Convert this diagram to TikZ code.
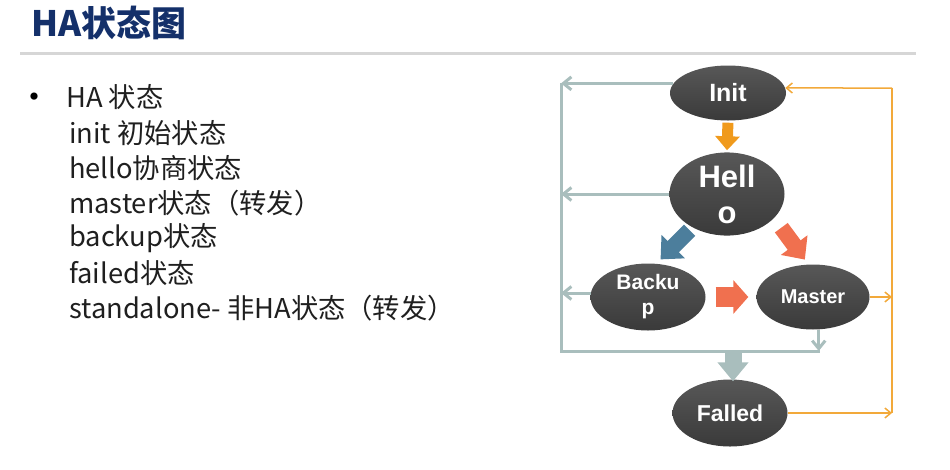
\documentclass[tikz,border=0pt]{standalone}
\usepackage{fontspec}
\setmainfont{Noto Sans CJK SC}
\newfontfamily\statefont{Liberation Sans}
\usetikzlibrary{arrows.meta,shapes.geometric}
\definecolor{titleblue}{HTML}{14306A}
\definecolor{rulegray}{HTML}{D6D6D6}
\definecolor{failgray}{HTML}{A9BEBD}
\definecolor{initorange}{HTML}{F2A93A}
\definecolor{helloorange}{HTML}{F09A1C}
\definecolor{backupblue}{HTML}{4C7E9C}
\definecolor{mastercoral}{HTML}{F0704F}
\definecolor{statedark}{HTML}{3A3A3A}

\begin{document}
\begin{tikzpicture}[x=1pt,y=-1pt,>={Straight Barb[length=8pt,width=13pt]},
  state/.style={ellipse,inner sep=0pt,minimum width=115pt,minimum height=67pt,
    top color=statedark!85,bottom color=statedark,text=white,align=center},
  item/.style={anchor=west,inner sep=0pt,text=black!88,font=\fontsize{27.3}{30}\selectfont},
  failline/.style={draw=failgray,line width=3pt},
  initline/.style={draw=initorange,line width=1.5pt,>={Straight Barb[length=6pt,width=10pt]}},
  block/.style n args={3}{line width=#1,-{Triangle[width=#2,length=#3]}}]
  \useasboundingbox (0,0) rectangle (950,469);

  % title
  \node[anchor=west,inner sep=0pt,text=titleblue,font=\fontsize{35}{40}\selectfont\bfseries]
    (title) at (31,23) {HA状态图};
  \draw[rulegray,line width=3pt] (20,53) -- (916,53);

  % list
  \node[inner sep=0pt,font=\fontsize{34}{34}\selectfont] (bullet) at (34,101) {•};
  \node[item] (l0) at (66,97) {HA 状态};
  \node[item] (l1) at (69,133) {init 初始状态};
  \node[item] (l2) at (69,168) {hello协商状态};
  \node[item] (l3) at (69,203) {master状态（转发）};
  \node[item] (l4) at (69,238) {backup状态};
  \node[item] (l5) at (69,273) {failed状态};
  \node[item] (l6) at (69,308) {standalone- 非HA状态（转发）};

  % states
  \node[state,minimum width=116pt,minimum height=55pt,
    font=\statefont\bfseries\fontsize{25}{28}\selectfont] (init) at (728,93) {Init};
  \node[state,minimum height=68pt,
    font=\statefont\bfseries\fontsize{31}{36}\selectfont] (hello) at (727,194) {Hell\\o};
  \node[state,font=\statefont\bfseries\fontsize{21}{25}\selectfont] (backup) at (648,297) {Backu\\p};
  \node[state,minimum width=113pt,minimum height=65pt,
    font=\statefont\bfseries\fontsize{20}{24}\selectfont] (master) at (813,297) {Master};
  \node[state,font=\statefont\bfseries\fontsize{23}{26}\selectfont] (failed) at (730,413) {Falled};

  % gray lines to failed
  \coordinate (busT) at (561,83);
  \coordinate (busL) at (561,351);
  \coordinate (busR) at (820,351);
  \coordinate (busF) at (733,351);
  \draw[failline] (busT) -- (busL) -- (busR);
  \draw[failline,->] (init.170) -- (init.170 -| busL);
  \draw[failline,->] (hello.west) -- (hello.west -| busL);
  \draw[failline,->] (backup.176) -- (backup.176 -| busL);
  \draw[failline,->] (master.280) -- (master.280 |- busR);
  \draw[failgray,block={17pt}{30pt}{19pt},shorten >=-2pt] (busF) -- (busF |- failed.north);

  % orange lines back to init
  \coordinate (ringT) at (892,88);
  \coordinate (ringB) at (892,413);
  \draw[initline] (ringT) -- (ringB);
  \draw[initline,->] (ringT) -- (init.5);
  \draw[initline,->] (master.east) -- (master.east -| ringT);
  \draw[initline,->] (failed.east) -- (failed.east -| ringT);

  % block arrows
  \draw[helloorange,block={11pt}{24pt}{14pt},shorten <=2pt,shorten >=2pt] (init.south) -- (hello.north);
  \draw[backupblue,block={16pt}{32pt}{18pt},shorten <=4pt,shorten >=6pt] (hello.224) -- (backup.76);
  \draw[mastercoral,block={16pt}{32pt}{18pt},shorten <=12pt,shorten >=6pt] (hello.333) -- (master.98);
  \draw[mastercoral,block={20pt}{33pt}{15pt},shorten <=10pt,shorten >=8pt] (backup.east) -- (master.west);
\end{tikzpicture}
\end{document}
